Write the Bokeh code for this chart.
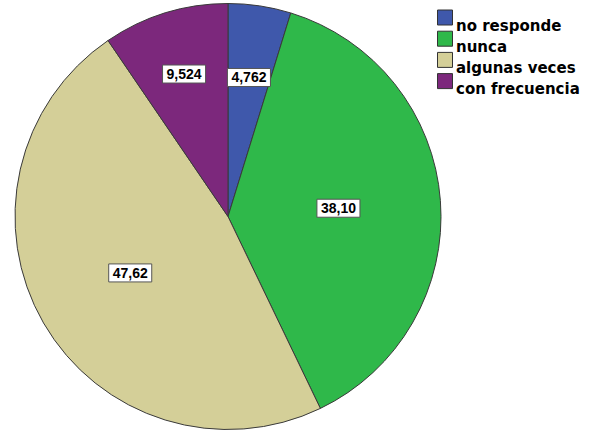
import math
from bokeh.plotting import figure
from bokeh.models import Range1d, ColumnDataSource
from bokeh.core.properties import value
from bokeh.embed import file_html
from bokeh.resources import INLINE

# ---- data ----
categories = ["no responde", "nunca", "algunas veces", "con frecuencia"]
percent_values = [4.762, 38.10, 47.62, 9.524]
percent_labels = ["4,762", "38,10", "47,62", "9,524"]
colors = ["#3f58ab", "#2fb84a", "#d4cf98", "#7c287c"]

# ---- layout constants ----
W, H = 598, 430
CX, CY = 227.5, H - 216.0
R = 213.0
label_r_frac = [0.66, 0.52, 0.53, 0.70]
legend_x = 444.5
legend_y0 = 17.0
legend_pitch = 21.2

total = sum(percent_values)
starts, ends, lx, ly = [], [], [], []
cum = 0.0
for v, f in zip(percent_values, label_r_frac):
    a0 = math.pi / 2 - 2 * math.pi * cum / total
    cum += v
    a1 = math.pi / 2 - 2 * math.pi * cum / total
    starts.append(a0)
    ends.append(a1)
    mid = (a0 + a1) / 2
    lx.append(CX + R * f * math.cos(mid))
    ly.append(CY + R * f * math.sin(mid))

src = ColumnDataSource(dict(cat=categories, val=percent_values, lab=percent_labels,
                            color=colors, start=starts, end=ends, lx=lx, ly=ly))

p = figure(width=W, height=H, x_range=Range1d(0, W), y_range=Range1d(0, H),
           x_axis_type=None, y_axis_type=None, toolbar_location=None,
           output_backend="svg", min_border=0)
p.grid.visible = False
p.outline_line_color = None
p.background_fill_color = "white"
p.border_fill_color = "white"

p.wedge(x=CX, y=CY, radius=R, start_angle="start", end_angle="end",
        direction="clock", fill_color="color", line_color="#3a3a3a",
        line_width=1, source=src)

p.text(x="lx", y="ly", text="lab", source=src, text_align="center",
       text_baseline="middle", text_font=value("Liberation Sans"),
       text_font_size="14px", text_font_style="bold", text_color="black",
       background_fill_color="white", border_line_color="#555555",
       border_line_width=1, padding=4)

# legend
ys = [H - (legend_y0 + i * legend_pitch) for i in range(len(categories))]
leg = ColumnDataSource(dict(cat=categories, color=colors,
                            x=[legend_x] * len(categories), y=ys,
                            tx=[legend_x + 11] * len(categories),
                            ty=[y - 8 for y in ys]))
p.rect(x="x", y="y", width=15, height=15, fill_color="color",
       line_color="#333333", line_width=1, source=leg)
p.text(x="tx", y="ty", text="cat", source=leg, text_align="left",
       text_baseline="alphabetic", text_font=value("DejaVu Sans"),
       text_font_size="15px", text_font_style="bold", text_color="black")

open("out.html", "w").write(file_html(p, INLINE))
